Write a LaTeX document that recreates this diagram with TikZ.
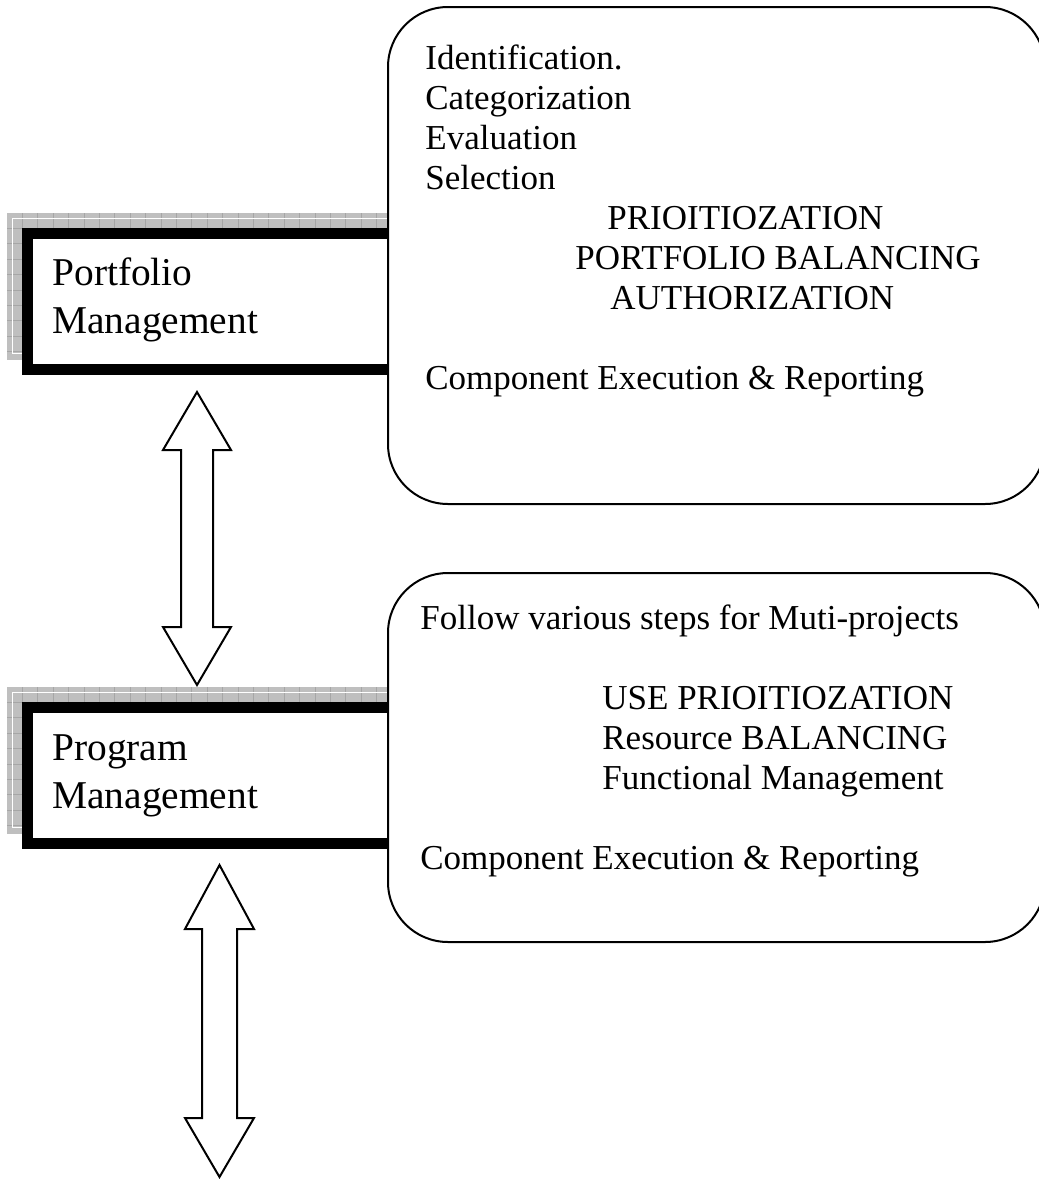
\documentclass[tikz,border=0pt]{standalone}
\usepackage{fontspec}
\setmainfont{Liberation Serif}

\begin{document}
\begin{tikzpicture}[
  x=0.5pt, y=-0.5pt,
  shadowfill/.style={fill=black!25},
  gridline/.style={draw=black!35, line width=0.5pt},
  frame/.style={draw=black, fill=white, line width=5.5pt},
  roundbox/.style={draw=black, fill=white, line width=1pt, rounded corners=30pt},
  dblarr/.style={draw=black, fill=white, line width=1pt},
  mgmt/.style={font=\fontsize{19.7}{24}\selectfont, align=left, inner sep=0pt, anchor=north west},
  steps/.style={font=\fontsize{17.5}{20}\selectfont, align=left, inner sep=0pt, anchor=north west}
]
\useasboundingbox (0,0) rectangle (1039,1179);

% Grid shadows and thick frames of the two management boxes
\foreach \ty in {228,702} {
  \begin{scope}
    \clip (7,\ty-15) rectangle (430,\ty+132);
    \fill[shadowfill] (7,\ty-15) rectangle (430,\ty+132);
    \foreach \k in {1,...,27}
      \draw[gridline] ({7+15.4*\k},\ty-15) -- ++(0,147);
    \foreach \k in {1,...,9}
      \draw[gridline] (7,{\ty-15+15.4*\k}) -- ++(423,0);
    \draw[white, line width=0.5pt] (12.5,\ty-9.5) rectangle (440,\ty+125.5);
  \end{scope}
  \draw[frame] (27.5,\ty+5.5) rectangle (430,\ty+141);
}

% Rounded boxes with the steps
\draw[roundbox] (388,7) rectangle (1045,504);
\draw[roundbox] (388,573) rectangle (1045,942);

% Box texts
\node[mgmt] (port) at (52,257) {Portfolio\\Management};
\node[mgmt] (prog) at (52,734) {Program\\Management};

\node[steps] (portsteps) at (425,44) {Identification.\\Categorization\\Evaluation\\Selection\\
  \hspace*{91pt}PRIOITIOZATION\\\hspace*{75pt}PORTFOLIO BALANCING\\\hspace*{92.5pt}AUTHORIZATION\\[20pt]
  Component Execution \& Reporting};
\node[steps] (progsteps) at (420,604) {Follow various steps for Muti-projects\\[20pt]
  \hspace*{91pt}USE PRIOITIOZATION\\\hspace*{91pt}Resource BALANCING\\\hspace*{91pt}Functional Management\\[20pt]
  Component Execution \& Reporting};

% Hollow double arrows below each management box
\foreach \cx/\ytip/\yhead/\ylow/\ybot/\hwid/\swid in {197/392/450/627/685/34/16, 219.5/865/929/1118/1177/34.5/17.5}
  \draw[dblarr] (\cx,\ytip) -- (\cx+\hwid,\yhead) -- (\cx+\swid,\yhead) -- (\cx+\swid,\ylow)
    -- (\cx+\hwid,\ylow) -- (\cx,\ybot) -- (\cx-\hwid,\ylow) -- (\cx-\swid,\ylow)
    -- (\cx-\swid,\yhead) -- (\cx-\hwid,\yhead) -- cycle;

\end{tikzpicture}
\end{document}
